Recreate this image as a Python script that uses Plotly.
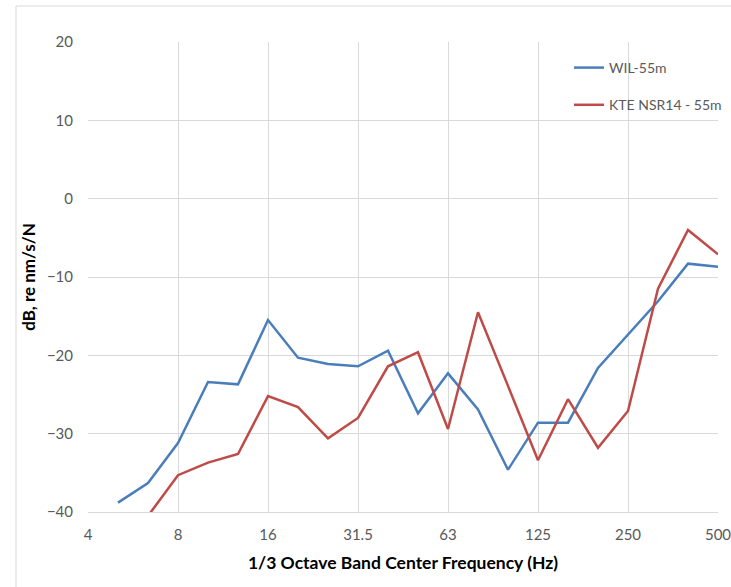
import plotly.graph_objects as go

# 1/3 octave band centre frequencies (Hz)
bands = ["4", "5", "6.3", "8", "10", "12.5", "16", "20", "25", "31.5", "40",
         "50", "63", "80", "100", "125", "160", "200", "250", "315", "400", "500"]
tick_bands = ["4", "8", "16", "31.5", "63", "125", "250", "500"]

# Mobility levels, dB re nm/s/N
wil_55m = [None, -38.8, -36.3, -31.2, -23.4, -23.7, -15.5, -20.3, -21.1, -21.4, -19.4,
           -27.4, -22.3, -26.9, -34.6, -28.6, -28.6, -21.6, -17.4, -13.1, -8.3, -8.7]
kte_nsr14_55m = [None, None, -40.5, -35.3, -33.7, -32.6, -25.2, -26.6, -30.6, -28.0, -21.4,
                 -19.6, -29.4, -14.5, -23.9, -33.4, -25.6, -31.8, -27.1, -11.5, -4.0, -7.1]

BLUE = "#4A7EBB"
RED = "#BE4B48"
FONT = "Lato"

fig = go.Figure()
fig.add_trace(go.Scatter(x=bands, y=wil_55m, mode="lines", name="WIL-55m",
                         line=dict(color=BLUE, width=2.5), legendgroup="a"))
fig.add_trace(go.Scatter(x=bands, y=kte_nsr14_55m, mode="lines", name="KTE NSR14 - 55m",
                         line=dict(color=RED, width=2.5), legendgroup="b"))

W, H = 731, 587
L, R, T, B = 88, 13, 42, 75
pw, ph = W - L - R, H - T - B

def px_x(x):
    return (x - L) / pw

def px_y(y):
    return (H - B - y) / ph

# outer chart frame
fig.add_shape(type="rect", xref="paper", yref="paper",
              x0=px_x(16), x1=px_x(W + 20), y0=px_y(H + 20), y1=px_y(6),
              line=dict(color="#D9D9D9", width=1), fillcolor="rgba(0,0,0,0)", layer="below")

fig.update_layout(
    width=W, height=H,
    margin=dict(l=L, r=R, t=T, b=B, autoexpand=False),
    paper_bgcolor="white", plot_bgcolor="white",
    font=dict(family=FONT, color="#595959", size=14),
    showlegend=True,
    legend=dict(x=px_x(569), y=px_y(52), xanchor="left", yanchor="top",
                bgcolor="rgba(0,0,0,0)", font=dict(size=14, color="#595959"),
                tracegroupgap=16, itemwidth=30),
    xaxis=dict(type="category", categoryorder="array", categoryarray=bands,
               range=[0, len(bands) - 1], tickmode="array", tickvals=tick_bands,
               ticktext=tick_bands, showgrid=True, gridcolor="#D9D9D9", gridwidth=1,
               showline=True, linecolor="#D9D9D9", linewidth=1, ticks="",
               automargin=False,
               tickfont=dict(size=15, color="#595959"), ticklabelstandoff=9,
               title=dict(text="<b>1/3 Octave Band Center Frequency (Hz)</b>",
                          font=dict(size=17.5, color="#000000"), standoff=14)),
    yaxis=dict(range=[-40, 20], dtick=10, tick0=0, showgrid=True, gridcolor="#D9D9D9",
               gridwidth=1, zeroline=False, showline=False, ticks="",
               automargin=False,
               tickfont=dict(size=15, color="#595959"), ticklabelstandoff=14,
               title=dict(text="<b>dB, re nm/s/N</b>",
                          font=dict(size=17, color="#000000"), standoff=6)),
)

fig.write_html("out.html")
